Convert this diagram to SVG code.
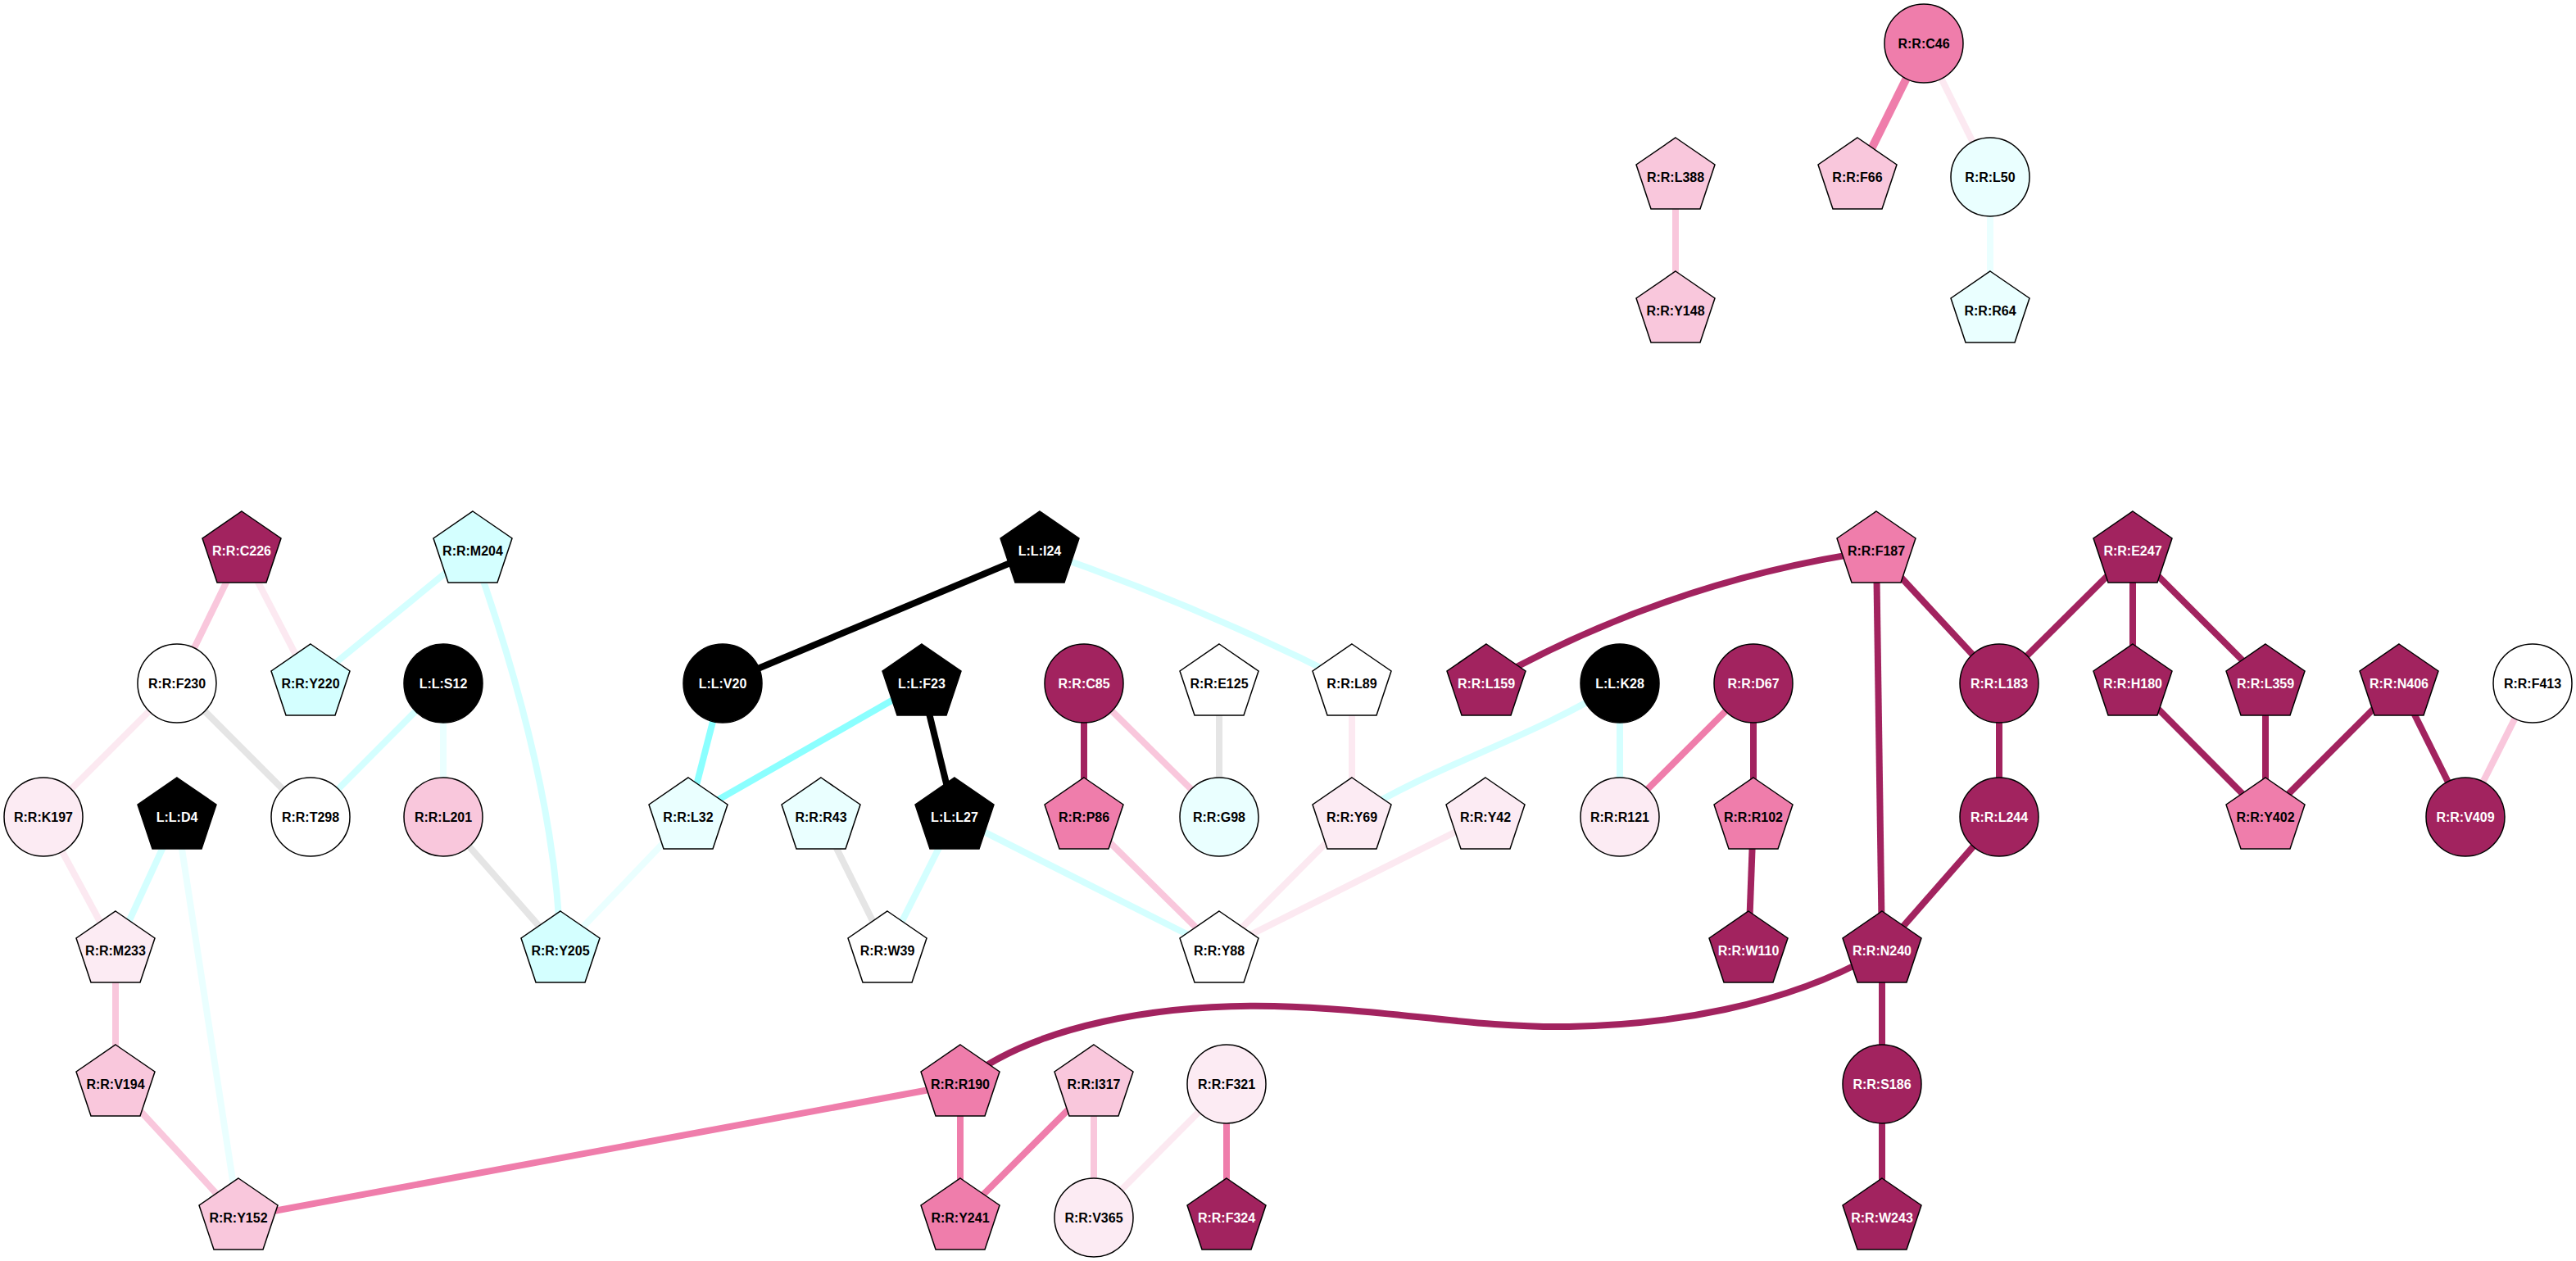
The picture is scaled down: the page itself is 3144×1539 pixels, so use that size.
<svg xmlns="http://www.w3.org/2000/svg" xmlns:xlink="http://www.w3.org/1999/xlink" width="3144" height="1539" viewBox="0 0 3144 1539">
<style>
.e{fill:none;stroke-width:8}
.edk{stroke:#A2235F}.emd{stroke:#EF7DAB}.elp{stroke:#F9C7DC}.evp{stroke:#FCE9F1}
.ecy{stroke:#D4FFFF}.evc{stroke:#EAFFFF}.esc{stroke:#8BFFFF}.egr{stroke:#E5E5E5}.ebk{stroke:#000}
.n{stroke:#000;stroke-width:1.5}
.dk{fill:#A2235F}.md{fill:#EF7DAB}.lp{fill:#F9C7DC}.vp{fill:#FCEBF3}
.cy{fill:#D4FFFF}.vc{fill:#EAFFFF}.wh{fill:#FFFFFF}.bk{fill:#000000}
text{font-family:"Liberation Sans",Arial,sans-serif;font-weight:bold;font-size:16px;text-anchor:middle}
.tb{fill:#000}.tw{fill:#FFF}
</style>
<defs>
<polygon id="pent" points="0,-48 48,-15 30,39 -30,39 -48,-15"/>
</defs>
<rect width="3144" height="1539" fill="#FFFFFF"/>
<g id="edges">
<path class="e emd" style="stroke-width:10" d="M2348,53 L2267,216"/>
<path class="e evp" d="M2348,53 L2429,216"/>
<path class="e elp" d="M2045,216 L2045,379"/>
<path class="e evc" d="M2429,216 L2429,379"/>
<path class="e elp" d="M295,672 L216,834"/>
<path class="e evp" d="M295,672 L379,834"/>
<path class="e ecy" d="M577,672 L379,834"/>
<path class="e ecy" d="M577,672 C630,820 680,1000 684,1160"/>
<path class="e evp" d="M216,834 L53,997"/>
<path class="e egr" d="M216,834 L379,997"/>
<path class="e ecy" d="M541,834 L379,997"/>
<path class="e evc" d="M541,834 L541,997"/>
<path class="e egr" d="M541,997 L684,1160"/>
<path class="e evp" d="M53,997 L141,1160"/>
<path class="e ecy" d="M216,997 L141,1160"/>
<path class="e evc" d="M216,997 L291,1486"/>
<path class="e elp" d="M141,1160 L141,1323"/>
<path class="e elp" d="M141,1323 L291,1486"/>
<path class="e emd" d="M291,1486 L1172,1323"/>
<path class="e ebk" d="M1269,672 L882,834"/>
<path class="e ecy" d="M1269,672 Q1459,737 1650,834"/>
<path class="e esc" d="M882,834 L840,997"/>
<path class="e esc" d="M1125,834 L840,997"/>
<path class="e ebk" d="M1125,834 L1165,997"/>
<path class="e evc" d="M840,997 L684,1160"/>
<path class="e egr" d="M1002,997 L1083,1160"/>
<path class="e ecy" d="M1165,997 L1083,1160"/>
<path class="e ecy" d="M1165,997 L1488,1160"/>
<path class="e edk" d="M1323,834 L1323,997"/>
<path class="e elp" d="M1323,834 L1488,997"/>
<path class="e egr" d="M1488,834 L1488,997"/>
<path class="e elp" d="M1323,997 L1488,1160"/>
<path class="e evp" d="M1650,834 L1650,997"/>
<path class="e evp" d="M1650,997 L1488,1160"/>
<path class="e evp" d="M1813,997 L1488,1160"/>
<path class="e ecy" d="M1650,997 C1760,930 1860,905 1977,834"/>
<path class="e ecy" d="M1977,834 L1977,997"/>
<path class="e emd" d="M2140,834 L1977,997"/>
<path class="e edk" d="M2140,834 L2140,997"/>
<path class="e edk" d="M2140,997 L2134,1160"/>
<path class="e edk" d="M2290,672 Q2038,708 1814,834"/>
<path class="e edk" d="M2290,672 L2440,834"/>
<path class="e edk" d="M2290,672 L2297,1160"/>
<path class="e edk" d="M2603,672 L2440,834"/>
<path class="e edk" d="M2603,672 L2603,834"/>
<path class="e edk" d="M2603,672 L2765,834"/>
<path class="e edk" d="M2440,834 L2440,997"/>
<path class="e edk" d="M2440,997 L2297,1160"/>
<path class="e edk" d="M2603,834 L2765,997"/>
<path class="e edk" d="M2765,834 L2765,997"/>
<path class="e edk" d="M2928,834 L2765,997"/>
<path class="e edk" d="M2928,834 L3009,997"/>
<path class="e elp" d="M3091,834 L3009,997"/>
<path class="e edk" d="M1172,1323 C1260,1250 1420,1225 1555,1228 S1800,1255 1915,1253 S2180,1230 2297,1160"/>
<path class="e edk" d="M2297,1160 L2297,1323"/>
<path class="e edk" d="M2297,1323 L2297,1486"/>
<path class="e emd" d="M1172,1323 L1172,1486"/>
<path class="e emd" d="M1335,1323 L1172,1486"/>
<path class="e elp" d="M1335,1323 L1335,1486"/>
<path class="e evp" d="M1497,1323 L1335,1486"/>
<path class="e emd" d="M1497,1323 L1497,1486"/>
</g>
<g id="C46"><circle class="n md" cx="2348" cy="53" r="48"/><text class="tb" x="2348" y="59">R:R:C46</text></g>
<g id="L388"><use xlink:href="#pent" class="n lp" x="2045" y="216"/><text class="tb" x="2045" y="222">R:R:L388</text></g>
<g id="F66"><use xlink:href="#pent" class="n lp" x="2267" y="216"/><text class="tb" x="2267" y="222">R:R:F66</text></g>
<g id="L50"><circle class="n vc" cx="2429" cy="216" r="48"/><text class="tb" x="2429" y="222">R:R:L50</text></g>
<g id="Y148"><use xlink:href="#pent" class="n lp" x="2045" y="379"/><text class="tb" x="2045" y="385">R:R:Y148</text></g>
<g id="R64"><use xlink:href="#pent" class="n vc" x="2429" y="379"/><text class="tb" x="2429" y="385">R:R:R64</text></g>
<g id="C226"><use xlink:href="#pent" class="n dk" x="295" y="672"/><text class="tw" x="295" y="678">R:R:C226</text></g>
<g id="M204"><use xlink:href="#pent" class="n cy" x="577" y="672"/><text class="tb" x="577" y="678">R:R:M204</text></g>
<g id="I24"><use xlink:href="#pent" class="n bk" x="1269" y="672"/><text class="tw" x="1269" y="678">L:L:I24</text></g>
<g id="F187"><use xlink:href="#pent" class="n md" x="2290" y="672"/><text class="tb" x="2290" y="678">R:R:F187</text></g>
<g id="E247"><use xlink:href="#pent" class="n dk" x="2603" y="672"/><text class="tw" x="2603" y="678">R:R:E247</text></g>
<g id="F230"><circle class="n wh" cx="216" cy="834" r="48"/><text class="tb" x="216" y="840">R:R:F230</text></g>
<g id="Y220"><use xlink:href="#pent" class="n cy" x="379" y="834"/><text class="tb" x="379" y="840">R:R:Y220</text></g>
<g id="S12"><circle class="n bk" cx="541" cy="834" r="48"/><text class="tw" x="541" y="840">L:L:S12</text></g>
<g id="V20"><circle class="n bk" cx="882" cy="834" r="48"/><text class="tw" x="882" y="840">L:L:V20</text></g>
<g id="F23"><use xlink:href="#pent" class="n bk" x="1125" y="834"/><text class="tw" x="1125" y="840">L:L:F23</text></g>
<g id="C85"><circle class="n dk" cx="1323" cy="834" r="48"/><text class="tw" x="1323" y="840">R:R:C85</text></g>
<g id="E125"><use xlink:href="#pent" class="n wh" x="1488" y="834"/><text class="tb" x="1488" y="840">R:R:E125</text></g>
<g id="L89"><use xlink:href="#pent" class="n wh" x="1650" y="834"/><text class="tb" x="1650" y="840">R:R:L89</text></g>
<g id="L159"><use xlink:href="#pent" class="n dk" x="1814" y="834"/><text class="tw" x="1814" y="840">R:R:L159</text></g>
<g id="K28"><circle class="n bk" cx="1977" cy="834" r="48"/><text class="tw" x="1977" y="840">L:L:K28</text></g>
<g id="D67"><circle class="n dk" cx="2140" cy="834" r="48"/><text class="tw" x="2140" y="840">R:R:D67</text></g>
<g id="L183"><circle class="n dk" cx="2440" cy="834" r="48"/><text class="tw" x="2440" y="840">R:R:L183</text></g>
<g id="H180"><use xlink:href="#pent" class="n dk" x="2603" y="834"/><text class="tw" x="2603" y="840">R:R:H180</text></g>
<g id="L359"><use xlink:href="#pent" class="n dk" x="2765" y="834"/><text class="tw" x="2765" y="840">R:R:L359</text></g>
<g id="N406"><use xlink:href="#pent" class="n dk" x="2928" y="834"/><text class="tw" x="2928" y="840">R:R:N406</text></g>
<g id="F413"><circle class="n wh" cx="3091" cy="834" r="48"/><text class="tb" x="3091" y="840">R:R:F413</text></g>
<g id="K197"><circle class="n vp" cx="53" cy="997" r="48"/><text class="tb" x="53" y="1003">R:R:K197</text></g>
<g id="D4"><use xlink:href="#pent" class="n bk" x="216" y="997"/><text class="tw" x="216" y="1003">L:L:D4</text></g>
<g id="T298"><circle class="n wh" cx="379" cy="997" r="48"/><text class="tb" x="379" y="1003">R:R:T298</text></g>
<g id="L201"><circle class="n lp" cx="541" cy="997" r="48"/><text class="tb" x="541" y="1003">R:R:L201</text></g>
<g id="L32"><use xlink:href="#pent" class="n vc" x="840" y="997"/><text class="tb" x="840" y="1003">R:R:L32</text></g>
<g id="R43"><use xlink:href="#pent" class="n vc" x="1002" y="997"/><text class="tb" x="1002" y="1003">R:R:R43</text></g>
<g id="L27"><use xlink:href="#pent" class="n bk" x="1165" y="997"/><text class="tw" x="1165" y="1003">L:L:L27</text></g>
<g id="P86"><use xlink:href="#pent" class="n md" x="1323" y="997"/><text class="tb" x="1323" y="1003">R:R:P86</text></g>
<g id="G98"><circle class="n vc" cx="1488" cy="997" r="48"/><text class="tb" x="1488" y="1003">R:R:G98</text></g>
<g id="Y69"><use xlink:href="#pent" class="n vp" x="1650" y="997"/><text class="tb" x="1650" y="1003">R:R:Y69</text></g>
<g id="Y42"><use xlink:href="#pent" class="n vp" x="1813" y="997"/><text class="tb" x="1813" y="1003">R:R:Y42</text></g>
<g id="R121"><circle class="n vp" cx="1977" cy="997" r="48"/><text class="tb" x="1977" y="1003">R:R:R121</text></g>
<g id="R102"><use xlink:href="#pent" class="n md" x="2140" y="997"/><text class="tb" x="2140" y="1003">R:R:R102</text></g>
<g id="L244"><circle class="n dk" cx="2440" cy="997" r="48"/><text class="tw" x="2440" y="1003">R:R:L244</text></g>
<g id="Y402"><use xlink:href="#pent" class="n md" x="2765" y="997"/><text class="tb" x="2765" y="1003">R:R:Y402</text></g>
<g id="V409"><circle class="n dk" cx="3009" cy="997" r="48"/><text class="tw" x="3009" y="1003">R:R:V409</text></g>
<g id="M233"><use xlink:href="#pent" class="n vp" x="141" y="1160"/><text class="tb" x="141" y="1166">R:R:M233</text></g>
<g id="Y205"><use xlink:href="#pent" class="n cy" x="684" y="1160"/><text class="tb" x="684" y="1166">R:R:Y205</text></g>
<g id="W39"><use xlink:href="#pent" class="n wh" x="1083" y="1160"/><text class="tb" x="1083" y="1166">R:R:W39</text></g>
<g id="Y88"><use xlink:href="#pent" class="n wh" x="1488" y="1160"/><text class="tb" x="1488" y="1166">R:R:Y88</text></g>
<g id="W110"><use xlink:href="#pent" class="n dk" x="2134" y="1160"/><text class="tw" x="2134" y="1166">R:R:W110</text></g>
<g id="N240"><use xlink:href="#pent" class="n dk" x="2297" y="1160"/><text class="tw" x="2297" y="1166">R:R:N240</text></g>
<g id="V194"><use xlink:href="#pent" class="n lp" x="141" y="1323"/><text class="tb" x="141" y="1329">R:R:V194</text></g>
<g id="R190"><use xlink:href="#pent" class="n md" x="1172" y="1323"/><text class="tb" x="1172" y="1329">R:R:R190</text></g>
<g id="I317"><use xlink:href="#pent" class="n lp" x="1335" y="1323"/><text class="tb" x="1335" y="1329">R:R:I317</text></g>
<g id="F321"><circle class="n vp" cx="1497" cy="1323" r="48"/><text class="tb" x="1497" y="1329">R:R:F321</text></g>
<g id="S186"><circle class="n dk" cx="2297" cy="1323" r="48"/><text class="tw" x="2297" y="1329">R:R:S186</text></g>
<g id="Y152"><use xlink:href="#pent" class="n lp" x="291" y="1486"/><text class="tb" x="291" y="1492">R:R:Y152</text></g>
<g id="Y241"><use xlink:href="#pent" class="n md" x="1172" y="1486"/><text class="tb" x="1172" y="1492">R:R:Y241</text></g>
<g id="V365"><circle class="n vp" cx="1335" cy="1486" r="48"/><text class="tb" x="1335" y="1492">R:R:V365</text></g>
<g id="F324"><use xlink:href="#pent" class="n dk" x="1497" y="1486"/><text class="tw" x="1497" y="1492">R:R:F324</text></g>
<g id="W243"><use xlink:href="#pent" class="n dk" x="2297" y="1486"/><text class="tw" x="2297" y="1492">R:R:W243</text></g>
</svg>
